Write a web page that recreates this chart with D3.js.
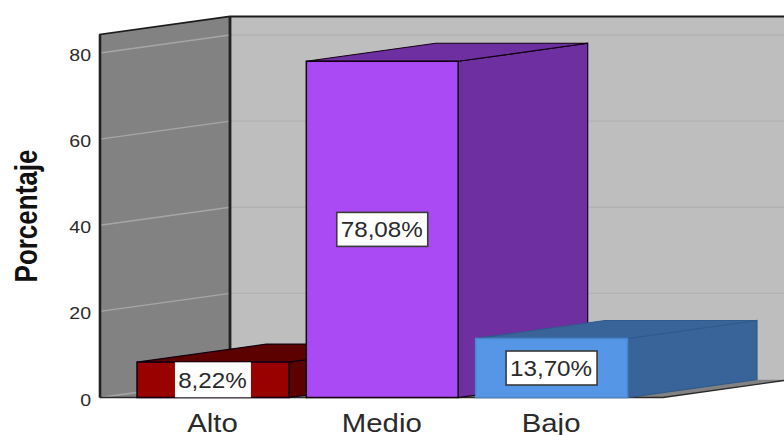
<!DOCTYPE html>
<html><head><meta charset="utf-8">
<script src="https://cdn.jsdelivr.net/npm/d3@7/dist/d3.min.js"></script>
<style>html,body{margin:0;padding:0;background:#fff}svg{display:block}text{font-family:"Liberation Sans",Arial,sans-serif}</style>
</head><body><div id="c"></div>
<script>
const categories = ["Alto","Medio","Bajo"];
const values = [8.22,78.08,13.70];
const valueLabels = ["8,22%","78,08%","13,70%"];
const frontColors = ["#990000","#AA4AF4","#5596E6"];
const sideColors = ["#5C0000","#6E30A0","#38649A"];
const yTicks = [0,20,40,60,80];
const W=784,H=435;
const y=d3.scaleLinear().domain([0,80]).range([397.5,53]);
const x=d3.scaleBand().domain(categories).range([137,627.5]).paddingInner(0.103).paddingOuter(0);
const dx=129.5, dy=-18;
const yMax=84.3;
const svg=d3.select("#c").append("svg").attr("width",W).attr("height",H);
const pts=a=>a.map(p=>p.join(",")).join(" ");
const x0=100,x1=230,floorEnd=663;
svg.append("polygon").attr("points",pts([[x1,y(yMax)+dy],[W+2,y(yMax)+dy],[W+2,y(0)+dy],[x1,y(0)+dy]])).attr("fill","#BEBEBE");
svg.append("polygon").attr("points",pts([[x0,y(yMax)],[x1,y(yMax)+dy],[x1,y(0)+dy],[x0,y(0)]])).attr("fill","#828282");
svg.append("polygon").attr("points",pts([[x0,y(0)],[x1,y(0)+dy],[W+2,y(0)+dy],[W+2,y(0)+dy+1],[floorEnd,y(0)]])).attr("fill","#828282");
yTicks.forEach(t=>{
  if(t>0) svg.append("line").attr("x1",x1).attr("x2",W).attr("y1",y(t)+dy).attr("y2",y(t)+dy).attr("stroke","#B2B2B2").attr("stroke-width",1.4);
  svg.append("line").attr("x1",x0).attr("x2",x1).attr("y1",y(t)).attr("y2",y(t)+dy).attr("stroke","#A6A6A6").attr("stroke-width",1.5);
});
svg.append("path").attr("d",`M${x0},${y(0)}V${y(yMax)}L${x1},${y(yMax)+dy}H${W}`).attr("fill","none").attr("stroke","#1c1c1c").attr("stroke-width",1.8);
svg.append("line").attr("x1",x0).attr("x2",x0).attr("y1",y(0)).attr("y2",y(yMax)).attr("stroke","#222").attr("stroke-width",2.6);
svg.append("line").attr("x1",x1).attr("x2",x1).attr("y1",y(yMax)+dy).attr("y2",y(0)+dy).attr("stroke","#222").attr("stroke-width",2.8);
svg.append("path").attr("d",`M${x0},${y(0)}H${floorEnd}L${W},${y(0)+dy+1}`).attr("fill","none").attr("stroke","#2a2a2a").attr("stroke-width",1.3);
categories.forEach((c,i)=>{
  const l=x(c),r=l+x.bandwidth(),t=y(values[i]),b=y(0);
  const g=svg.append("g");
  const edge=i===2?"#2F5A8C":"#120012";
  g.append("polygon").attr("points",pts([[r,t],[r+dx,t+dy],[r+dx,b+dy],[r,b]])).attr("fill",sideColors[i]).attr("stroke",edge).attr("stroke-width",1.2);
  g.append("polygon").attr("points",pts([[l,t],[l+dx,t+dy],[r+dx,t+dy],[r,t]])).attr("fill",sideColors[i]).attr("stroke",edge).attr("stroke-width",1.2);
  g.append("rect").attr("x",l).attr("y",t).attr("width",x.bandwidth()).attr("height",b-t).attr("fill",frontColors[i]).attr("stroke",i===2?"#4A86CC":"#120012").attr("stroke-width",1.5);
});
function sText(px,py,sx,size,str){
  return svg.append("text").attr("transform",`translate(${px},${py}) scale(${sx},1)`).attr("text-anchor","middle").attr("font-size",size).attr("fill","#2a2a2a").text(str);
}
categories.forEach((c,i)=>{
  const cx=x(c)+x.bandwidth()/2, cy=(y(values[i])+y(0))/2;
  const w=i===0?76:91,h=i===0?35:34;
  svg.append("rect").attr("x",cx-w/2).attr("y",cy-h/2).attr("width",w).attr("height",h).attr("fill","#fff").attr("stroke","#3a3a3a").attr("stroke-width",i===0?0:1.6);
  sText(cx-0.5,cy+8,1.1,22,valueLabels[i]);
});
yTicks.forEach(t=>{
  svg.append("text").attr("transform",`translate(91,${y(t)+8}) scale(1.15,1)`).attr("text-anchor","end").attr("font-size",17).attr("fill","#2a2a2a").text(t);
});
categories.forEach(c=>{
  sText(x(c)+x.bandwidth()/2-0.5,432,1.13,26,c);
});
svg.append("text").attr("transform","translate(37,216) scale(1.18,1) rotate(-90)").attr("text-anchor","middle").attr("font-size",26).attr("font-weight","bold").attr("fill","#111").text("Porcentaje");
</script></body></html>
